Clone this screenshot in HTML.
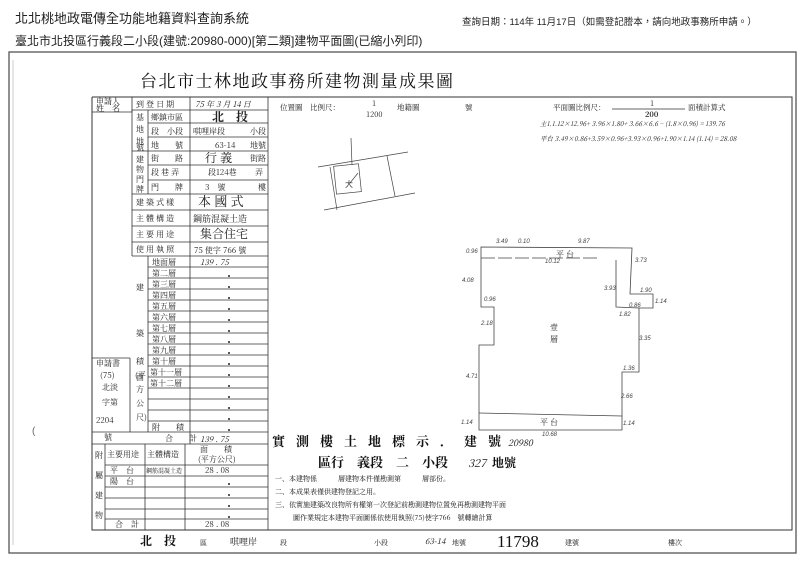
<!DOCTYPE html>
<html><head><meta charset="utf-8"><style>
html,body{margin:0;padding:0;background:#fff;}
svg{display:block;font-family:"Liberation Sans","Noto Sans CJK TC",sans-serif;}
.s{font-family:"Noto Serif CJK SC","Noto Sans CJK TC",serif;}
</style></head><body>
<svg width="800" height="565" viewBox="0 0 800 565" xmlns="http://www.w3.org/2000/svg">
<text x="15" y="23" font-size="13" fill="#222">北北桃地政電傳全功能地籍資料查詢系統</text>
<text x="462" y="25" font-size="9.5" fill="#222">查詢日期：114年 11月17日（如需登記謄本，請向地政事務所申請。）</text>
<text x="15" y="45" font-size="12" fill="#222">臺北市北投區行義段二小段(建號:20980-000)[第二類]建物平面圖(已縮小列印)</text>
<rect x="9" y="52" width="787" height="501" fill="none" stroke="#555" stroke-width="1.3"/>
<line x1="13" y1="60" x2="13" y2="545" stroke="#aaa" stroke-width="0.6"/>
<text class="s" x="140" y="87" font-size="17" fill="#111" letter-spacing="1.5">台北市士林地政事務所建物測量成果圖</text>
<polyline points="92,97 792,97 792,530 92,530 92,97" fill="none" stroke="#333" stroke-width="1"/>
<g stroke="#333" stroke-width="0.8" fill="none">
<line x1="132" y1="97" x2="132" y2="112"/>
<line x1="92" y1="112" x2="132" y2="112"/>
<line x1="268" y1="97" x2="268" y2="444"/>
<line x1="190" y1="97" x2="190" y2="444"/>
<line x1="148" y1="110" x2="148" y2="194"/>
<line x1="132" y1="110" x2="132" y2="256"/>
<line x1="132" y1="110" x2="268" y2="110"/>
<line x1="148" y1="123" x2="268" y2="123"/>
<line x1="148" y1="137" x2="268" y2="137"/>
<line x1="132" y1="151" x2="268" y2="151"/>
<line x1="148" y1="165" x2="268" y2="165"/>
<line x1="148" y1="180" x2="268" y2="180"/>
<line x1="132" y1="194" x2="268" y2="194"/>
<line x1="132" y1="210" x2="268" y2="210"/>
<line x1="132" y1="226" x2="268" y2="226"/>
<line x1="132" y1="242" x2="268" y2="242"/>
<line x1="132" y1="256" x2="268" y2="256"/>
<line x1="148" y1="256" x2="148" y2="432"/>
<line x1="92" y1="358" x2="130" y2="358"/>
<line x1="130" y1="358" x2="130" y2="432"/>
<line x1="92" y1="432" x2="268" y2="432"/>
<line x1="148" y1="267" x2="268" y2="267"/>
<line x1="148" y1="278" x2="268" y2="278"/>
<line x1="148" y1="289" x2="268" y2="289"/>
<line x1="148" y1="300" x2="268" y2="300"/>
<line x1="148" y1="311" x2="268" y2="311"/>
<line x1="148" y1="322" x2="268" y2="322"/>
<line x1="148" y1="333" x2="268" y2="333"/>
<line x1="148" y1="344" x2="268" y2="344"/>
<line x1="148" y1="355" x2="268" y2="355"/>
<line x1="148" y1="366" x2="268" y2="366"/>
<line x1="148" y1="377" x2="268" y2="377"/>
<line x1="148" y1="388" x2="268" y2="388"/>
<line x1="148" y1="399" x2="268" y2="399"/>
<line x1="148" y1="410" x2="268" y2="410"/>
<line x1="148" y1="421" x2="268" y2="421"/>
<line x1="92" y1="444" x2="268" y2="444"/>
<line x1="105" y1="444" x2="105" y2="530"/>
<line x1="145" y1="444" x2="145" y2="530"/>
<line x1="185" y1="444" x2="185" y2="530"/>
<line x1="268" y1="444" x2="268" y2="530"/>
<line x1="105" y1="465" x2="268" y2="465"/>
<line x1="105" y1="476" x2="268" y2="476"/>
<line x1="105" y1="487" x2="268" y2="487"/>
<line x1="105" y1="498" x2="268" y2="498"/>
<line x1="105" y1="509" x2="268" y2="509"/>
<line x1="105" y1="519" x2="268" y2="519"/>
</g>
<g font-size="8" fill="#222" class="s">
<text x="96" y="104">申請人</text><text x="96" y="111">姓　名</text>
<text x="136" y="107">到 登 日 期</text><text x="195" y="107" font-style="italic">75 年 3 月 14 日</text>
<text x="136" y="120">基</text><text x="136" y="132">地</text><text x="136" y="144">地</text><text x="136" y="150">號</text>
<text x="151" y="120">鄉鎮市區</text><text x="212" y="121" font-size="12" font-weight="bold">北　投</text>
<text x="151" y="134">段　小段</text><text x="193" y="134">唭哩岸段</text><text x="250" y="134">小段</text>
<text x="151" y="148">地　　號</text><text x="215" y="148">63-14</text><text x="250" y="148">地號</text>
<text x="136" y="162">建</text><text x="136" y="172">物</text><text x="136" y="182">門</text><text x="136" y="192">牌</text>
<text x="151" y="161">街　　路</text><text x="205" y="162" font-size="12">行 義</text><text x="250" y="161">街路</text>
<text x="151" y="175">段 巷 弄</text><text x="208" y="175">段124巷</text><text x="255" y="175">弄</text>
<text x="151" y="190">門　　牌</text><text x="205" y="190">3　號</text><text x="258" y="190">樓</text>
<text x="136" y="205">建 築 式 樣</text><text x="198" y="206" font-size="13">本 國 式</text>
<text x="136" y="221">主 體 構 造</text><text x="193" y="222" font-size="9">鋼筋混凝土造</text>
<text x="136" y="237">主 要 用 途</text><text x="200" y="238" font-size="12">集合住宅</text>
<text x="136" y="252">使 用 執 照</text><text x="194" y="253">75 使字 766 號</text>
<text x="152" y="265">地面層</text><text x="200" y="265" font-style="italic">139 . 75</text>
<text x="152" y="276">第二層</text><text x="152" y="287">第三層</text><text x="152" y="298">第四層</text><text x="152" y="309">第五層</text><text x="152" y="320">第六層</text><text x="152" y="331">第七層</text><text x="152" y="342">第八層</text><text x="152" y="353">第九層</text><text x="152" y="364">第十層</text><text x="150" y="375">第十一層</text><text x="150" y="386">第十二層</text>
<text x="136" y="290">建</text><text x="136" y="336">築</text><text x="136" y="380">面</text>
<text x="136" y="364">積</text><text x="135" y="378">(平</text><text x="136" y="392">方</text><text x="136" y="406">公</text><text x="136" y="420">尺)</text>
<text x="152" y="430">附　　積</text>
<text x="96" y="366">申請書</text><text x="100" y="378">(75)</text><text x="102" y="390">北淡</text><text x="102" y="405">字第</text><text x="96" y="423">2204</text><text x="104" y="440">號</text>
<text x="165" y="441">合　　計</text><text x="200" y="442" font-style="italic">139 . 75</text>
<text x="95" y="458">附</text><text x="95" y="478">屬</text><text x="95" y="498">建</text><text x="95" y="518">物</text>
<text x="107" y="457">主要用途</text><text x="147" y="457">主體構造</text><text x="200" y="452">面　　積</text><text x="198" y="462">(平方公尺)</text>
<text x="110" y="473">平　台</text><text x="146" y="473" font-size="6">鋼筋混凝土造</text><text x="205" y="473">28 . 08</text>
<text x="110" y="484">陽　台</text>
<text x="115" y="527">合　計</text><text x="205" y="527">28 . 08</text>
</g>
<g fill="#222"><circle cx="229" cy="276" r="1"/><circle cx="229" cy="287" r="1"/><circle cx="229" cy="298" r="1"/><circle cx="229" cy="309" r="1"/><circle cx="229" cy="320" r="1"/><circle cx="229" cy="331" r="1"/><circle cx="229" cy="342" r="1"/><circle cx="229" cy="353" r="1"/><circle cx="229" cy="364" r="1"/><circle cx="229" cy="375" r="1"/><circle cx="229" cy="386" r="1"/><circle cx="229" cy="397" r="1"/><circle cx="229" cy="408" r="1"/><circle cx="229" cy="419" r="1"/><circle cx="229" cy="430" r="1"/><circle cx="229" cy="484" r="1"/><circle cx="229" cy="495" r="1"/><circle cx="229" cy="506" r="1"/><circle cx="229" cy="517" r="1"/></g>
<g font-size="7.5" fill="#222" class="s">
<text x="280" y="110">位置圖　比例尺：</text><text x="372" y="106">1</text><text x="366" y="117">1200</text>
<text x="397" y="110">地籍圖</text><text x="465" y="110">號</text>
<text x="553" y="110">平面圖比例尺：</text><text x="650" y="106">1</text><text x="645" y="117" font-weight="bold">200</text><text x="688" y="110">面積計算式</text>
<text x="540" y="126" font-style="italic" font-size="6.5">主1.1.12×12.96+ 3.96×1.80+ 3.66×6.6 − (1.8×0.96) = 139.76</text>
<text x="540" y="141" font-style="italic" font-size="6.5">平台 3.49×0.86+3.59×0.96+3.93×0.96+1.90×1.14 (1.14) = 28.08</text>
</g>
<line x1="612" y1="109" x2="685" y2="109" stroke="#333" stroke-width="0.7"/>
<g stroke="#444" stroke-width="0.7" fill="none">
<line x1="351" y1="138" x2="352" y2="165"/>
<line x1="318" y1="167" x2="408" y2="152"/>
<line x1="324" y1="210" x2="415" y2="193"/>
<line x1="330" y1="167" x2="337" y2="210"/>
<line x1="387" y1="156" x2="395" y2="196"/>
<rect x="335" y="165" width="25" height="28" transform="rotate(-6 347 179)"/>
<line x1="350" y1="183" x2="358" y2="173"/>
</g>
<text x="345" y="187" font-size="8" fill="#333">大</text>
<g stroke="#444" stroke-width="0.8" fill="none">
<polygon points="481,247 632,248 630,294 653,294 653,308 639,308 639,372 622,372 622,430 479,430 479,345 494,345 494,307 481,307"/>
<line x1="481" y1="258" x2="598" y2="258" stroke-dasharray="14,3"/>
<polyline points="616,260 616,307 639,308"/>
<line x1="479" y1="413" x2="622" y2="416"/>
</g>
<g font-size="8" fill="#222" class="s">
<text x="556" y="257">平 台</text><text x="540" y="425">平 台</text>
<text x="550" y="330">壹</text><text x="550" y="342">層</text>
</g>
<g font-size="6" fill="#444" font-style="italic">
<text x="496" y="243">3.49</text><text x="518" y="243">0.10</text><text x="578" y="243">9.87</text>
<text x="466" y="253">0.96</text><text x="545" y="263">10.12</text><text x="462" y="282">4.08</text>
<text x="484" y="301">0.96</text><text x="481" y="325">2.18</text><text x="466" y="378">4.71</text>
<text x="635" y="262">3.73</text><text x="604" y="290">3.93</text><text x="640" y="292">1.90</text>
<text x="655" y="303">1.14</text><text x="629" y="307">0.86</text><text x="619" y="316">1.82</text>
<text x="639" y="340">3.35</text><text x="623" y="370">1.36</text><text x="621" y="398">2.66</text>
<text x="461" y="424">1.14</text><text x="623" y="425">1.14</text><text x="542" y="436">10.68</text>
</g>
<g class="s" fill="#111">
<text x="272" y="446" font-size="13" font-weight="bold" letter-spacing="11">實測樓土地標示．建號</text><text x="508" y="446" font-size="9" font-style="italic">20980</text>
<text x="318" y="467" font-size="13" font-weight="bold">區行　義段　二　小段</text><text x="468" y="467" font-size="11" font-style="italic">327</text><text x="492" y="467" font-size="12" font-weight="bold">地號</text>
<text x="275" y="481" font-size="7">一、本建物係　　　層建物本件僅勘測第　　　層部份。</text>
<text x="275" y="494" font-size="7">二、本成果表僅供建物登記之用。</text>
<text x="275" y="507" font-size="7">三、依實施建築改良物所有權第一次登記前勘測建物位置免再勘測建物平面</text>
<text x="293" y="520" font-size="7">圖作業規定本建物平面圖係依使用執照(75)使字766　號轉繪計算</text>
</g>
<g class="s" fill="#111">
<text x="140" y="545" font-size="12" font-weight="bold">北　投</text><text x="200" y="545" font-size="7">區</text>
<text x="230" y="545" font-size="9">唭哩岸</text><text x="280" y="545" font-size="7">段</text>
<text x="374" y="545" font-size="7">小段</text><text x="425" y="544" font-size="8" font-style="italic">63-14</text><text x="452" y="545" font-size="7">地號</text>
<text x="497" y="547" font-size="17" font-family="Liberation Serif,serif">11798</text><text x="565" y="545" font-size="7">建號</text>
<text x="668" y="545" font-size="7">樓次</text>
</g>
<text x="32" y="434" font-size="10" fill="#666">(</text>
</svg>
</body></html>
